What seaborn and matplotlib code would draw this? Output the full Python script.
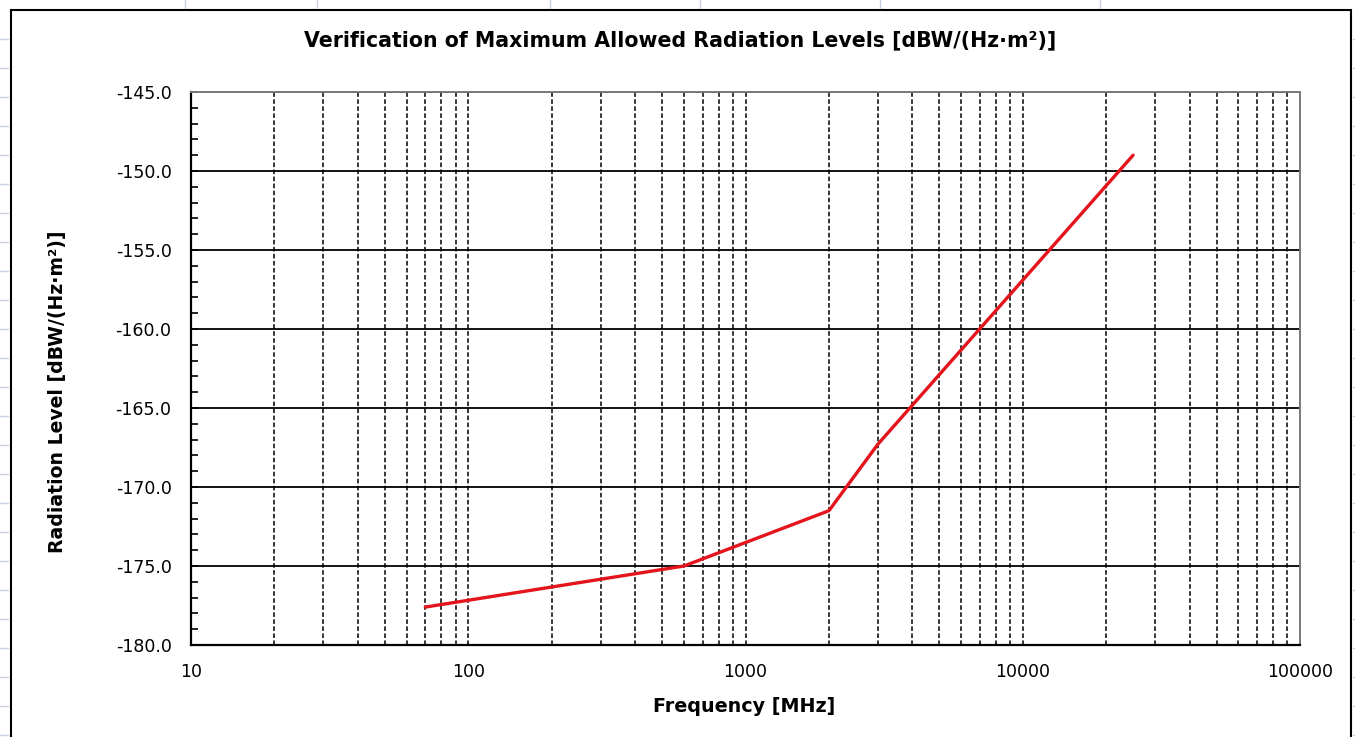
import matplotlib
matplotlib.use("Agg")
import matplotlib.pyplot as plt
import matplotlib.ticker as mticker
from matplotlib.patches import Rectangle
from matplotlib.lines import Line2D
import seaborn as sns
import pandas as pd

# Data
frequency_mhz = [70, 600, 2000, 3000, 25000]
radiation_level = [-177.6, -175.0, -171.5, -167.3, -149.0]
x_tick_values = [10, 100, 1000, 10000, 100000]
x_tick_labels = ["10", "100", "1000", "10000", "100000"]
y_tick_values = [-180, -175, -170, -165, -160, -155, -150, -145]

sns.set_style("white")
plt.rcParams['font.family'] = ['DejaVu Sans']
plt.rcParams['text.color'] = 'black'
plt.rcParams['axes.labelcolor'] = 'black'
plt.rcParams['xtick.color'] = 'black'
plt.rcParams['ytick.color'] = 'black'

df = pd.DataFrame({"Frequency": frequency_mhz, "Level": radiation_level})

fig = plt.figure(figsize=(13.55, 7.37), dpi=100)
fig.patch.set_facecolor("white")

# faint spreadsheet lines outside the chart object
W, H = 1355, 737
for yy in range(39, 737, 29):
    fig.add_artist(Line2D([0 / W, 8 / W], [1 - yy / H, 1 - yy / H], transform=fig.transFigure,
                          color="#c8d0e0", lw=1))
    fig.add_artist(Line2D([1353 / W, 1355 / W], [1 - yy / H, 1 - yy / H], transform=fig.transFigure,
                          color="#c8d0e0", lw=1))
for xx in [185, 317, 550, 700, 880, 1100]:
    fig.add_artist(Line2D([xx / W, xx / W], [1 - 0 / H, 1 - 8 / H], transform=fig.transFigure,
                          color="#c8d0e0", lw=1))
# chart border
fig.add_artist(Rectangle((11 / W, -0.01), (1351 - 11) / W, 1 - 10 / H + 0.01,
                         transform=fig.transFigure, fill=False, edgecolor="black", lw=1.5))

ax = fig.add_axes([191 / W, 1 - 645 / H, (1300 - 191) / W, (645 - 92) / H])

sns.lineplot(data=df, x="Frequency", y="Level", ax=ax, color="#e3141b", lw=2.4)

ax.set_xscale("log")
ax.set_xlim(10, 100000)
ax.set_ylim(-180, -145)

ax.xaxis.set_major_locator(mticker.FixedLocator(x_tick_values))
ax.xaxis.set_major_formatter(mticker.FixedFormatter(x_tick_labels))
ax.xaxis.set_minor_locator(mticker.LogLocator(base=10, subs=range(2, 10)))
ax.xaxis.set_minor_formatter(mticker.NullFormatter())

ax.yaxis.set_major_locator(mticker.FixedLocator(y_tick_values))
ax.yaxis.set_major_formatter(mticker.FormatStrFormatter("%.1f"))
ax.yaxis.set_minor_locator(mticker.MultipleLocator(1))

ax.grid(True, which="both", axis="x", color="black", linestyle=(0, (3, 1.6)), lw=1.1)
ax.grid(True, which="major", axis="y", color="black", linestyle="-", lw=1.3)

ax.tick_params(axis="x", which="both", length=0, pad=13, labelsize=12.5)
ax.tick_params(axis="y", which="major", direction="in", length=5, width=1.2, pad=14,
               labelsize=12.5, left=True)
ax.tick_params(axis="y", which="minor", direction="in", length=5, width=1.2, left=True)

for s in ["left", "bottom"]:
    ax.spines[s].set_color("black")
    ax.spines[s].set_linewidth(1.6)
for s in ["top", "right"]:
    ax.spines[s].set_color("#7a7a7a")
    ax.spines[s].set_linewidth(1.4)

ax.set_xlabel("")
ax.set_ylabel("")
fig.text(744 / W, 1 - 707 / H, "Frequency [MHz]", ha="center", va="center",
         fontsize=13.8, fontweight="bold")
fig.text(58 / W, 1 - 392 / H, "Radiation Level [dBW/(Hz·m²)]", ha="center", va="center",
         rotation=90, fontsize=13.6, fontweight="bold")
fig.text(680 / W, 1 - 40 / H, "Verification of Maximum Allowed Radiation Levels [dBW/(Hz·m²)]",
         ha="center", va="center", fontsize=14.8, fontweight="bold")

fig.savefig("out.png", dpi=100)
